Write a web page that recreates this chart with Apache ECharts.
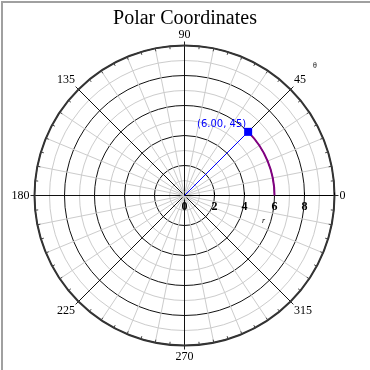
<!DOCTYPE html>
<html>
<head>
<meta charset="utf-8">
<style>html,body{margin:0;padding:0;background:#fff;}#c{width:370px;height:370px;}</style>
<script src="https://cdn.jsdelivr.net/npm/echarts@6/dist/echarts.min.js"></script>
</head>
<body>
<div id="c"></div>
<script>
// ---- data ----
const titleText = 'Polar Coordinates';
const radiusMin = 0, radiusMax = 10, radiusStep = 2;
const angleMin = 0, angleMax = 360, angleStep = 45;
const pointR = [6];          // radius of the marked point
const pointTheta = [45];     // angle (deg) of the marked point
const arcR = [6];            // arc radius
const arcFrom = [0];         // arc start angle
const arcTo = [45];          // arc end angle

const chart = echarts.init(document.getElementById('c'), null, {renderer: 'canvas'});
const serif = "'Liberation Serif','DejaVu Serif',serif";
const center = [184.5, 195.5];
const rad = 150;

const option = {
  animation: false,
  backgroundColor: '#fff',
  title: {
    text: titleText, left: 'center', top: 4,
    textStyle: {fontFamily: serif, fontSize: 20, fontWeight: 'normal', color: '#000'}
  },
  polar: [
    {center: center, radius: rad},
    {center: center, radius: rad}
  ],
  angleAxis: [
    {
      polarIndex: 0, type: 'value', min: angleMin, max: angleMax, interval: angleStep,
      startAngle: 0, clockwise: false, z: 3,
      axisLine: {show: true, lineStyle: {color: '#333', width: 2}},
      axisTick: {show: true, inside: false, length: 4, lineStyle: {color: '#222', width: 1}},
      minorTick: {show: false, splitNumber: 4},
      axisLabel: {
        show: true, margin: 5, color: '#000', fontFamily: serif, fontSize: 12,
        formatter: v => (v >= angleMax ? '' : String(v))
      },
      splitLine: {show: true, lineStyle: {color: '#111', width: 1}},
      minorSplitLine: {show: true, lineStyle: {color: '#cccccc', width: 1}}
    },
    {
      polarIndex: 1, type: 'value', min: angleMin, max: angleMax, interval: angleStep,
      startAngle: 0, clockwise: false, z: 4,
      axisLine: {show: false},
      axisTick: {show: false, inside: true},
      minorTick: {show: true, splitNumber: 8, length: 3, lineStyle: {color: '#444', width: 1}},
      axisLabel: {show: false},
      splitLine: {show: false},
      minorSplitLine: {show: false}
    }
  ],
  radiusAxis: [
    {
      polarIndex: 0, type: 'value', min: radiusMin, max: radiusMax, interval: radiusStep, z: 3,
      axisLine: {show: true, lineStyle: {color: '#000', width: 1}},
      axisTick: {show: true, inside: true, length: 3, lineStyle: {color: '#000'}},
      minorTick: {show: false, splitNumber: 2},
      axisLabel: {
        show: true, margin: -17, color: '#000', fontFamily: serif, fontSize: 12, fontWeight: 'bold',
        formatter: v => (v >= radiusMax ? '' : String(v))
      },
      splitLine: {show: true, lineStyle: {color: '#111', width: 1}},
      minorSplitLine: {show: true, lineStyle: {color: '#cccccc', width: 1}}
    },
    {
      polarIndex: 1, type: 'value', min: radiusMin, max: radiusMax, show: false,
      axisLine: {show: false}, axisTick: {show: false}, axisLabel: {show: false},
      splitLine: {show: false}
    }
  ],
  series: [
    {
      type: 'custom', coordinateSystem: 'polar', polarIndex: 0, z: 5,
      data: arcR.map((r, i) => [r, arcFrom[i], arcTo[i]]),
      renderItem: function (params, api) {
        const r = api.value(0), a0 = api.value(1), a1 = api.value(2);
        const c = api.coord([0, a0]);
        const p0 = api.coord([r, a0]);
        const p1 = api.coord([r, a1]);
        const R = Math.hypot(p0[0] - c[0], p0[1] - c[1]);
        const s = Math.atan2(p1[1] - c[1], p1[0] - c[0]);
        const e = Math.atan2(p0[1] - c[1], p0[0] - c[0]);
        return {
          type: 'arc',
          shape: {cx: c[0], cy: c[1], r: R, startAngle: s, endAngle: e, clockwise: true},
          style: {stroke: '#800080', lineWidth: 2, fill: null}
        };
      }
    },
    {
      type: 'line', coordinateSystem: 'polar', polarIndex: 0, z: 6,
      lineStyle: {color: '#0000ff', width: 1},
      itemStyle: {color: '#0000ff'},
      symbol: 'none',
      data: [
        {value: [0, pointTheta[0]], symbol: 'none'},
        {
          value: [pointR[0], pointTheta[0]], symbol: 'rect', symbolSize: 8,
          label: {
            show: true, position: 'left', distance: 0, offset: [2, -7],
            color: '#0000ff', fontFamily: "'DejaVu Sans',sans-serif", fontSize: 10,
            formatter: p => '(' + p.value[0].toFixed(2) + ', ' + p.value[1] + ')'
          }
        }
      ]
    }
  ],
  graphic: [
    {type: 'rect', left: 1, top: 1, shape: {width: 2, height: 369}, style: {fill: '#a0a0a0'}},
    {type: 'rect', left: 1, top: 1, shape: {width: 369, height: 2}, style: {fill: '#a0a0a0'}},
    {type: 'text', left: 313, top: 62, style: {text: 'θ', fontSize: 8, fontFamily: serif, fill: '#000'}},
    {type: 'text', left: 262, top: 217, style: {text: 'r', fontSize: 8, fontStyle: 'italic', fontFamily: serif, fill: '#000'}}
  ]
};
chart.setOption(option);
</script>
</body>
</html>
